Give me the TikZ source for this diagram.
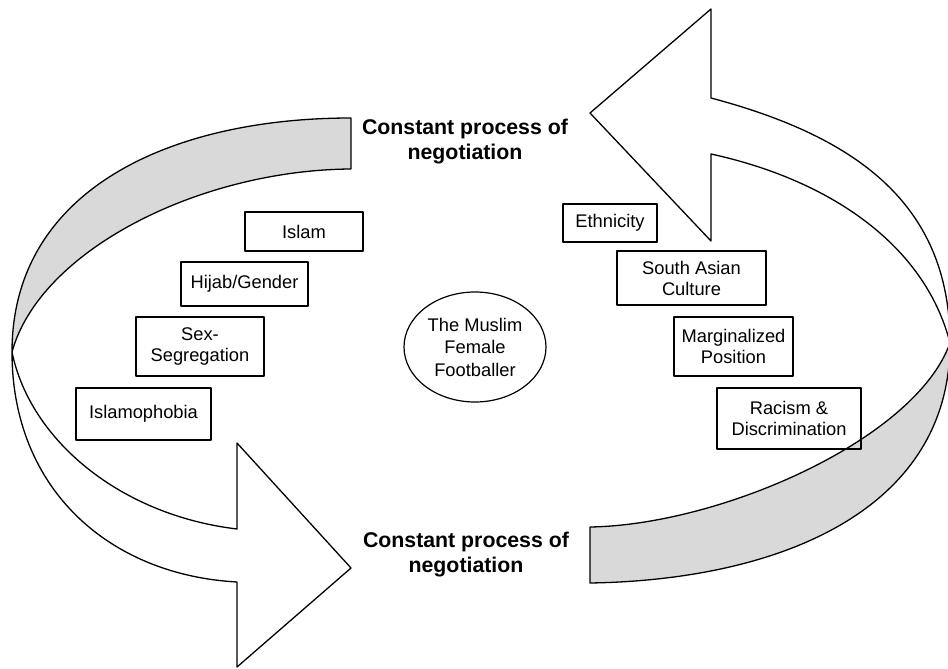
\documentclass[tikz,border=0pt]{standalone}
\usepackage{fontspec}
\setmainfont{Liberation Sans}
\usetikzlibrary{shapes.geometric}
\definecolor{bandgray}{gray}{0.85}
\begin{document}
\begin{tikzpicture}[x=1pt,y=-1pt,line join=round,
  front/.style={draw=black,fill=white,line width=1.3pt},
  back/.style={draw=black,fill=bandgray,line width=1.3pt},
  box/.style={draw=black,line width=1.2pt,rectangle,inner sep=0pt,align=center,
    font=\fontsize{18.3}{21}\selectfont},
  centre/.style={draw=black,line width=1.2pt,ellipse,inner sep=0pt,align=center,
    minimum width=142pt,minimum height=110pt,font=\fontsize{18.3}{22.5}\selectfont},
  title/.style={align=center,inner sep=0pt,font=\fontsize{21.3}{25}\selectfont\bfseries}]
\useasboundingbox (0,0) rectangle (948,669);
\clip (0,0) rectangle (948,669);
% left curved arrow
\coordinate (T) at (12,352);
\coordinate (A1) at (351,118);
\coordinate (A2) at (351,169);
\coordinate (Lo) at (237,582);
\coordinate (Li) at (237,529);
\coordinate (Lb1) at (237,443);
\coordinate (Lb2) at (237,667);
\coordinate (Ltip) at (351,568);
\path[back] (A1) .. controls (170,118) and (12,190) .. (T)
  .. controls (40,250) and (200,170) .. (A2) -- cycle;
\path[front] (T) .. controls (12,490) and (110,575) .. (Lo) -- (Lb2) -- (Ltip)
  -- (Lb1) -- (Li) .. controls (120,515) and (30,440) .. (T) -- cycle;
% right curved arrow
\coordinate (T2) at (950,343);
\coordinate (B1) at (590,527);
\coordinate (B2) at (590,583);
\coordinate (Ro) at (711,98);
\coordinate (Ri) at (711,154);
\coordinate (Rb1) at (711,9);
\coordinate (Rb2) at (711,241);
\coordinate (Rtip) at (590,113);
\path[back] (T2) .. controls (915,440) and (720,525) .. (B1) -- (B2)
  .. controls (780,580) and (950,510) .. (T2) -- cycle;
\path[front] (Ro) .. controls (850,135) and (950,200) .. (T2)
  .. controls (925,245) and (830,180) .. (Ri) -- (Rb2) -- (Rtip) -- (Rb1) -- cycle;
% titles
\node[title] (t1) at (465,142) {Constant process of\\negotiation};
\node[title] (t2) at (466,554.5) {Constant process of\\negotiation};
% centre
\node[centre] (mff) at (475,347) {The Muslim\\Female\\Footballer};
% left boxes
\node[box,minimum width=118pt,minimum height=39pt] (islam) at (304,231.5) {Islam};
\node[box,minimum width=127pt,minimum height=44pt] (hijab) at (244.5,284) {Hijab/Gender};
\node[box,minimum width=128pt,minimum height=59pt] (sexseg) at (200,346.5) {Sex-\\Segregation};
\node[box,minimum width=135pt,minimum height=52pt] (islamoph) at (143.5,414) {Islamophobia};
% right boxes
\node[box,minimum width=94pt,minimum height=38pt] (eth) at (610,223) {Ethnicity};
\node[box,minimum width=149pt,minimum height=54pt] (sac) at (691.5,278) {South Asian\\Culture};
\node[box,minimum width=119pt,minimum height=59pt] (marg) at (733.5,346.5) {Marginalized\\Position};
\node[box,minimum width=144pt,minimum height=61pt] (racism) at (789,418.5) {Racism \&\\Discrimination};
\end{tikzpicture}
\end{document}
